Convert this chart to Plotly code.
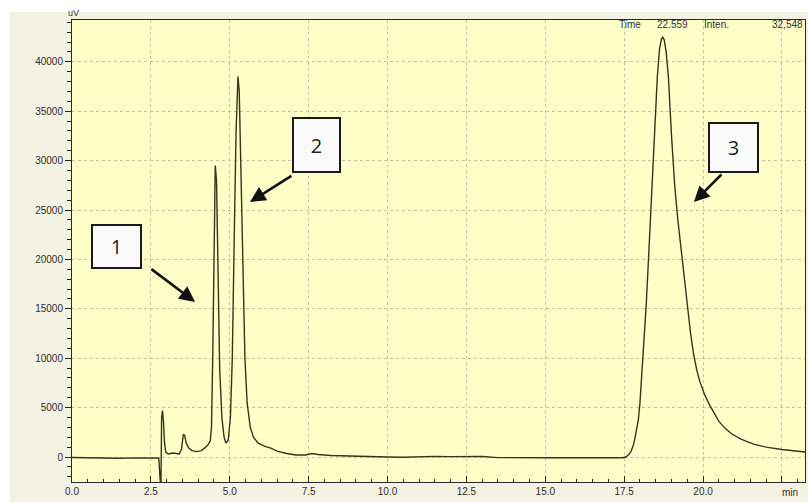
import plotly.graph_objects as go

# ---- data ----
time_min = [
    0.0, 0.5, 1.0, 1.5, 2.0, 2.5, 2.75, 2.80, 2.82, 2.84, 2.87, 2.90, 2.93, 2.97,
    3.05, 3.2, 3.3, 3.4, 3.47, 3.53, 3.57, 3.62, 3.7, 3.8, 3.95, 4.1, 4.2, 4.3,
    4.38, 4.42, 4.46, 4.50, 4.54, 4.58, 4.62, 4.68, 4.75, 4.82, 4.88, 4.95, 5.02,
    5.08, 5.14, 5.20, 5.26, 5.30, 5.36, 5.42, 5.48, 5.55, 5.65, 5.75, 5.9, 6.1,
    6.3, 6.5, 6.8, 7.1, 7.4, 7.6, 7.8, 8.2, 8.6, 9.0, 9.5, 10.0, 10.5, 11.0, 11.5,
    12.0, 12.5, 13.0, 13.5, 14.0, 15.0, 16.0, 17.0, 17.45, 17.55, 17.65, 17.72,
    17.8, 17.87, 17.95, 18.0, 18.05, 18.12, 18.2, 18.3, 18.4, 18.48, 18.55, 18.62,
    18.68, 18.72, 18.77, 18.83, 18.9, 19.0, 19.1, 19.2, 19.27, 19.4, 19.5, 19.6,
    19.7, 19.8, 19.9, 20.05, 20.2, 20.35, 20.5, 20.7, 20.9, 21.2, 21.6, 22.0,
    22.5, 23.23,
]
signal_uv = [
    -50, -80, -60, -120, -90, -110, -100, -2600, -2600, 4000, 4700, 3500, 1500, 500,
    300, 400, 350, 300, 800, 2300, 2200, 1400, 900, 650, 550, 650, 900, 1200,
    1600, 3000, 10000, 22000, 29500, 28000, 20000, 9000, 4000, 2000, 1400, 1700, 4000,
    10000, 22000, 33000, 38500, 37000, 28000, 18000, 10000, 5500, 3000, 2000, 1400, 1100,
    900, 600, 350, 200, 200, 350, 250, 150, 100, 60, 20, 0, -30, 30, 60,
    40, 80, 50, -60, -80, -80, -80, -80, -80, 0, 250, 600,
    1300, 2400, 3800, 5500, 8000, 11500, 15500, 22000, 28700, 34000, 38500, 41300,
    42300, 42500, 42200, 41000, 38500, 32500, 27500, 24000, 22000, 18000, 15200, 12600,
    10400, 8800, 7600, 6300, 5300, 4400, 3600, 2900, 2350, 1800, 1300, 1000,
    760, 500,
]

x_tickvals = [0.0, 2.5, 5.0, 7.5, 10.0, 12.5, 15.0, 17.5, 20.0, 22.5]
x_ticktext = ["0.0", "2.5", "5.0", "7.5", "10.0", "12.5", "15.0", "17.5", "20.0", ""]
y_tickvals = [0, 5000, 10000, 15000, 20000, 25000, 30000, 35000, 40000]
y_ticktext = ["0", "5000", "10000", "15000", "20000", "25000", "30000", "35000", "40000"]

peak_labels = ["1", "2", "3"]
label_pos = [(1.41, 21300), (7.75, 31580), (20.97, 31320)]
arrow_tail = [(2.47, 19130), (7.0, 28540), (20.63, 28740)]
arrow_head = [(3.90, 15690), (5.64, 25810), (19.71, 25810)]
box_size = [(47, 41), (45, 52), (47, 47)]

header_texts = ["Time", "22.559", "Inten.", "32,548"]

# ---- figure ----
FONT = "Liberation Sans, Arial, sans-serif"
fig = go.Figure()
fig.add_trace(go.Scatter(
    x=time_min, y=signal_uv, mode="lines",
    line=dict(color="#35351f", width=1.4),
    hoverinfo="skip", showlegend=False,
))

axis_common = dict(
    showline=True, linecolor="#2a2a2a", linewidth=1, mirror=True,
    showgrid=True, gridcolor="#c4c1a6", griddash="dot", gridwidth=1,
    zeroline=False, tickcolor="#2a2a2a",
    tickfont=dict(family=FONT, size=10, color="#2e2e2e"),
)

fig.update_layout(
    width=808, height=502,
    margin=dict(l=72, r=3, t=20, b=20),
    paper_bgcolor="#f4f2e3",
    plot_bgcolor="#ffffc8",
    font=dict(family=FONT),
    xaxis=dict(
        range=[0, 23.23], tickvals=x_tickvals, ticktext=x_ticktext,
        ticks="inside", ticklen=6, tickwidth=1,
        minor=dict(dtick=0.5, tick0=0, ticks="inside", ticklen=3,
                   tickcolor="#2a2a2a", showgrid=False),
        **axis_common,
    ),
    yaxis=dict(
        range=[-2530, 44230], tickvals=y_tickvals, ticktext=y_ticktext,
        ticks="outside", ticklen=6, tickwidth=1,
        minor=dict(dtick=1000, tick0=0, ticks="outside", ticklen=4,
                   tickcolor="#2a2a2a", showgrid=False),
        **axis_common,
    ),
)

# white strips outside the beige frame
fig.add_shape(type="rect", xref="paper", yref="paper", layer="below",
              x0=-0.2, x1=1.1, y0=1.0173, y1=1.2, fillcolor="white", line_width=0)
fig.add_shape(type="rect", xref="paper", yref="paper", layer="below",
              x0=-0.2, x1=-0.0846, y0=-0.2, y1=1.2, fillcolor="white", line_width=0)

annotations = []
# peak label boxes
for txt, (bx, by), (w, h) in zip(peak_labels, label_pos, box_size):
    annotations.append(dict(
        x=bx, y=by, xref="x", yref="y", text=txt, showarrow=False,
        font=dict(family="Open Sans, sans-serif", size=20, color="#1e1e1e"),
        bgcolor="#fafafa", bordercolor="#1a1a1a", borderwidth=2, borderpad=0,
        width=w, height=h, align="center", valign="middle",
    ))
# arrows
for (tx, ty), (hx, hy) in zip(arrow_tail, arrow_head):
    annotations.append(dict(
        x=hx, y=hy, ax=tx, ay=ty, xref="x", yref="y", axref="x", ayref="y",
        text="", showarrow=True, arrowhead=2, arrowsize=1.2, arrowwidth=2.6,
        arrowcolor="#111111", standoff=0, startstandoff=0,
    ))
# header info inside the plot top
header_x = [630, 672, 716, 787]
for txt, px in zip(header_texts, header_x):
    annotations.append(dict(
        x=(px - 72) / 733, y=(482 - 24) / 462, xref="paper", yref="paper",
        text=txt, showarrow=False, xanchor="center", yanchor="middle",
        font=dict(family=FONT, size=10, color="#333333"),
    ))
# unit labels
annotations.append(dict(
    x=(73 - 72) / 733, y=(482 - 13) / 462, xref="paper", yref="paper",
    text="uV", showarrow=False, xanchor="center", yanchor="middle",
    font=dict(family=FONT, size=9, color="#333333"),
))
annotations.append(dict(
    x=(790 - 72) / 733, y=(482 - 492) / 462, xref="paper", yref="paper",
    text="min", showarrow=False, xanchor="center", yanchor="middle",
    font=dict(family=FONT, size=10, color="#333333"),
))
fig.update_layout(annotations=annotations)

fig.write_html("out.html")
